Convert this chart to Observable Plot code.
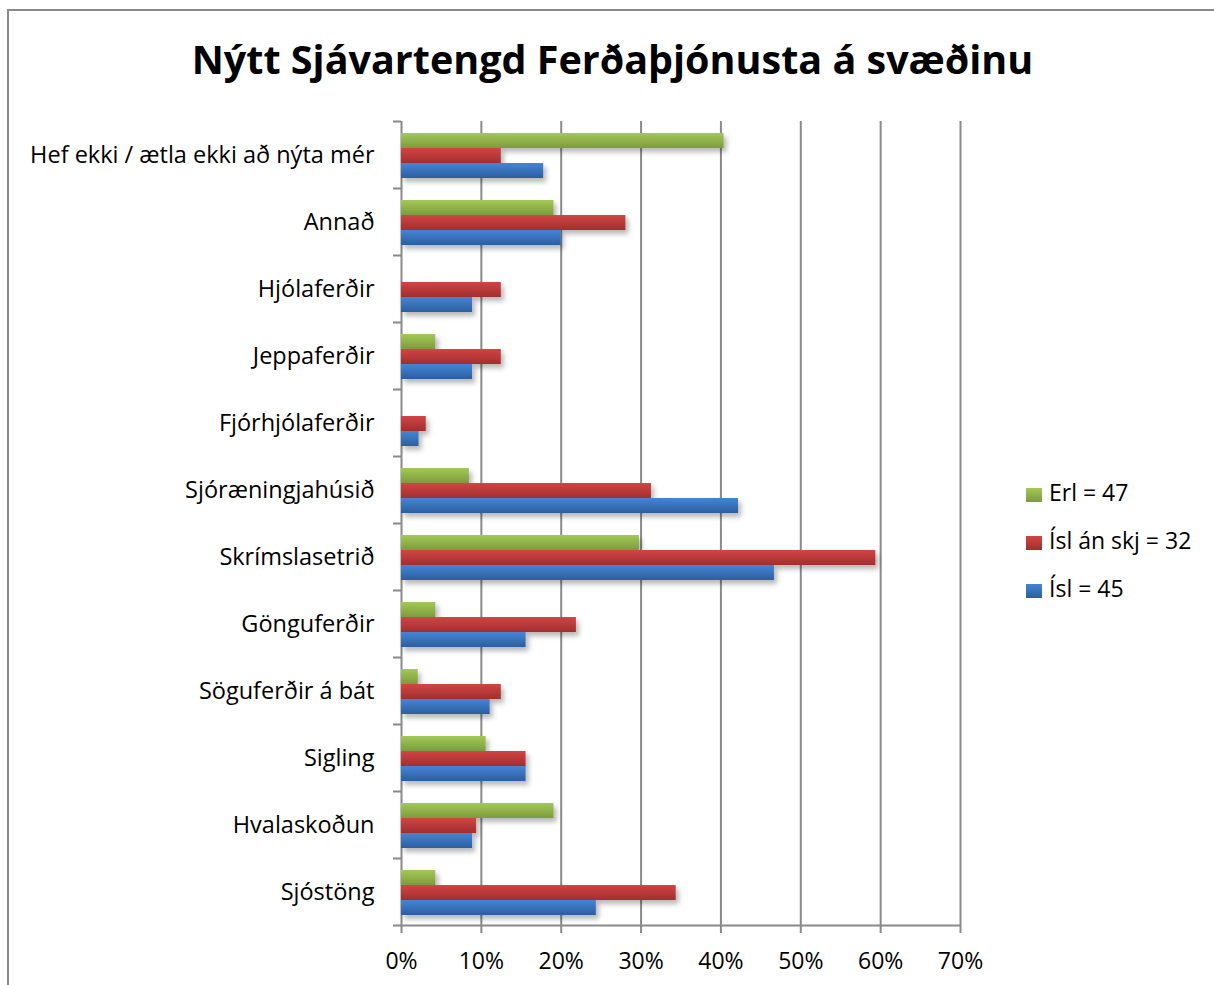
<!DOCTYPE html>
<html><head><meta charset="utf-8">
<script src="https://cdn.jsdelivr.net/npm/d3@7"></script>
<script src="https://cdn.jsdelivr.net/npm/@observablehq/plot@0.6"></script>
<style>
body{margin:0;background:#fff;font-family:"Open Sans",sans-serif;}
#wrap{position:relative;width:1214px;height:985px;overflow:hidden;}
#border{position:absolute;left:7px;top:9px;width:1300px;height:1100px;border:2px solid #8a8a8a;box-sizing:border-box;}
#title{position:absolute;left:8px;width:1209px;top:36px;text-align:center;font-weight:bold;font-size:39.5px;line-height:1.2;color:#000;white-space:nowrap;}
#chart{position:absolute;left:0;top:0;}
.sw{position:absolute;left:1026px;width:16px;height:14px;}
.lt{position:absolute;left:1049px;font-size:23px;line-height:1.2;color:#000;white-space:nowrap;}
</style></head>
<body>
<div id="wrap">
<div id="border"></div>
<div id="chart"></div>
<div id="title">Nýtt Sjávartengd Ferðaþjónusta á svæðinu</div>
<div id="legend"></div>
</div>
<script>
const categories = ["Hef ekki / ætla ekki að nýta mér","Annað","Hjólaferðir","Jeppaferðir","Fjórhjólaferðir","Sjóræningjahúsið","Skrímslasetrið","Gönguferðir","Söguferðir á bát","Sigling","Hvalaskoðun","Sjóstöng"];
const seriesNames = ["Erl = 47","Ísl án skj = 32","Ísl = 45"];
const erl     = [0.404,0.191,0.000,0.043,0.000,0.085,0.298,0.043,0.021,0.106,0.191,0.043];
const islAnSkj= [0.125,0.281,0.125,0.125,0.031,0.313,0.594,0.219,0.125,0.156,0.094,0.344];
const isl     = [0.178,0.200,0.089,0.089,0.022,0.422,0.467,0.156,0.111,0.156,0.089,0.244];
const xTicks  = [0,0.1,0.2,0.3,0.4,0.5,0.6,0.7];

const colors = [["#a3c957","#7d9b3c"],["#d24545","#a12e2e"],["#4585d6","#2c5e9e"]];
const seriesValues = [erl, islAnSkj, isl];
const data = seriesValues.map((vals,s)=>categories.map((c,i)=>({category:c, series:seriesNames[s], value:vals[i]})));

const band = 67, barH = 15, top0 = 12;
const barMarks = data.map((d,s)=>Plot.barX(d,{
  y:"category", x:"value", fill:`url(#grad${s})`,
  insetTop: top0 + s*barH, insetBottom: band - top0 - (s+1)*barH
}));
const pct = d3.format(".0%");

const plot = Plot.plot({
  width:1214, height:985,
  marginLeft:401, marginRight:254, marginTop:121, marginBottom:60,
  style:{fontFamily:"'Open Sans', sans-serif", fontSize:"23px", color:"#000", background:"transparent"},
  x:{domain:[0,0.7], ticks:xTicks, tickFormat:pct},
  y:{domain:categories, padding:0},
  marks:[
    Plot.gridX(xTicks,{stroke:"#8a8a8a", strokeOpacity:1, strokeWidth:2}),
    ...barMarks,
    Plot.ruleY(categories,{y:d=>d, x1:-0.01, x2:0, dy:-band/2, stroke:"#8a8a8a", strokeWidth:2, clip:false}),
    Plot.ruleY([categories[categories.length-1]],{y:d=>d, x1:-0.01, x2:0.7, dy:band/2, stroke:"#8a8a8a", strokeWidth:2}),
    Plot.axisX({ticks:xTicks, tickFormat:pct, tickSize:8, tickPadding:19, stroke:"#8a8a8a", strokeWidth:2, fontSize:23, label:null}),
    Plot.axisY({tickSize:0, tickPadding:27, fontSize:23.5, label:null})
  ]
});
document.getElementById("chart").appendChild(plot);

// gradients and shadow
const svg = d3.select(plot);
const defs = svg.insert("defs",":first-child");
colors.forEach(([a,b],s)=>{
  const g = defs.append("linearGradient").attr("id",`grad${s}`).attr("x1",0).attr("y1",0).attr("x2",0).attr("y2",1);
  g.append("stop").attr("offset","0%").attr("stop-color",a);
  g.append("stop").attr("offset","100%").attr("stop-color",b);
});
const f = defs.append("filter").attr("id","shadow").attr("x","-10%").attr("y","-30%").attr("width","130%").attr("height","190%");
f.append("feDropShadow").attr("dx",3).attr("dy",4).attr("stdDeviation",2.5).attr("flood-color","#000").attr("flood-opacity",0.28);
svg.selectAll("g[aria-label='bar']").attr("filter","url(#shadow)");

// legend
const legend = document.getElementById("legend");
const legBase = [502,550,598];
seriesNames.forEach((n,s)=>{
  const sw = document.createElement("div");
  sw.className="sw"; sw.style.top=(legBase[s]-14)+"px";
  sw.style.background=`linear-gradient(${colors[s][0]},${colors[s][1]})`;
  const t = document.createElement("div");
  t.className="lt"; t.style.top=(legBase[s]-23)+"px"; t.textContent=n;
  legend.appendChild(sw); legend.appendChild(t);
});
</script>
</body></html>
